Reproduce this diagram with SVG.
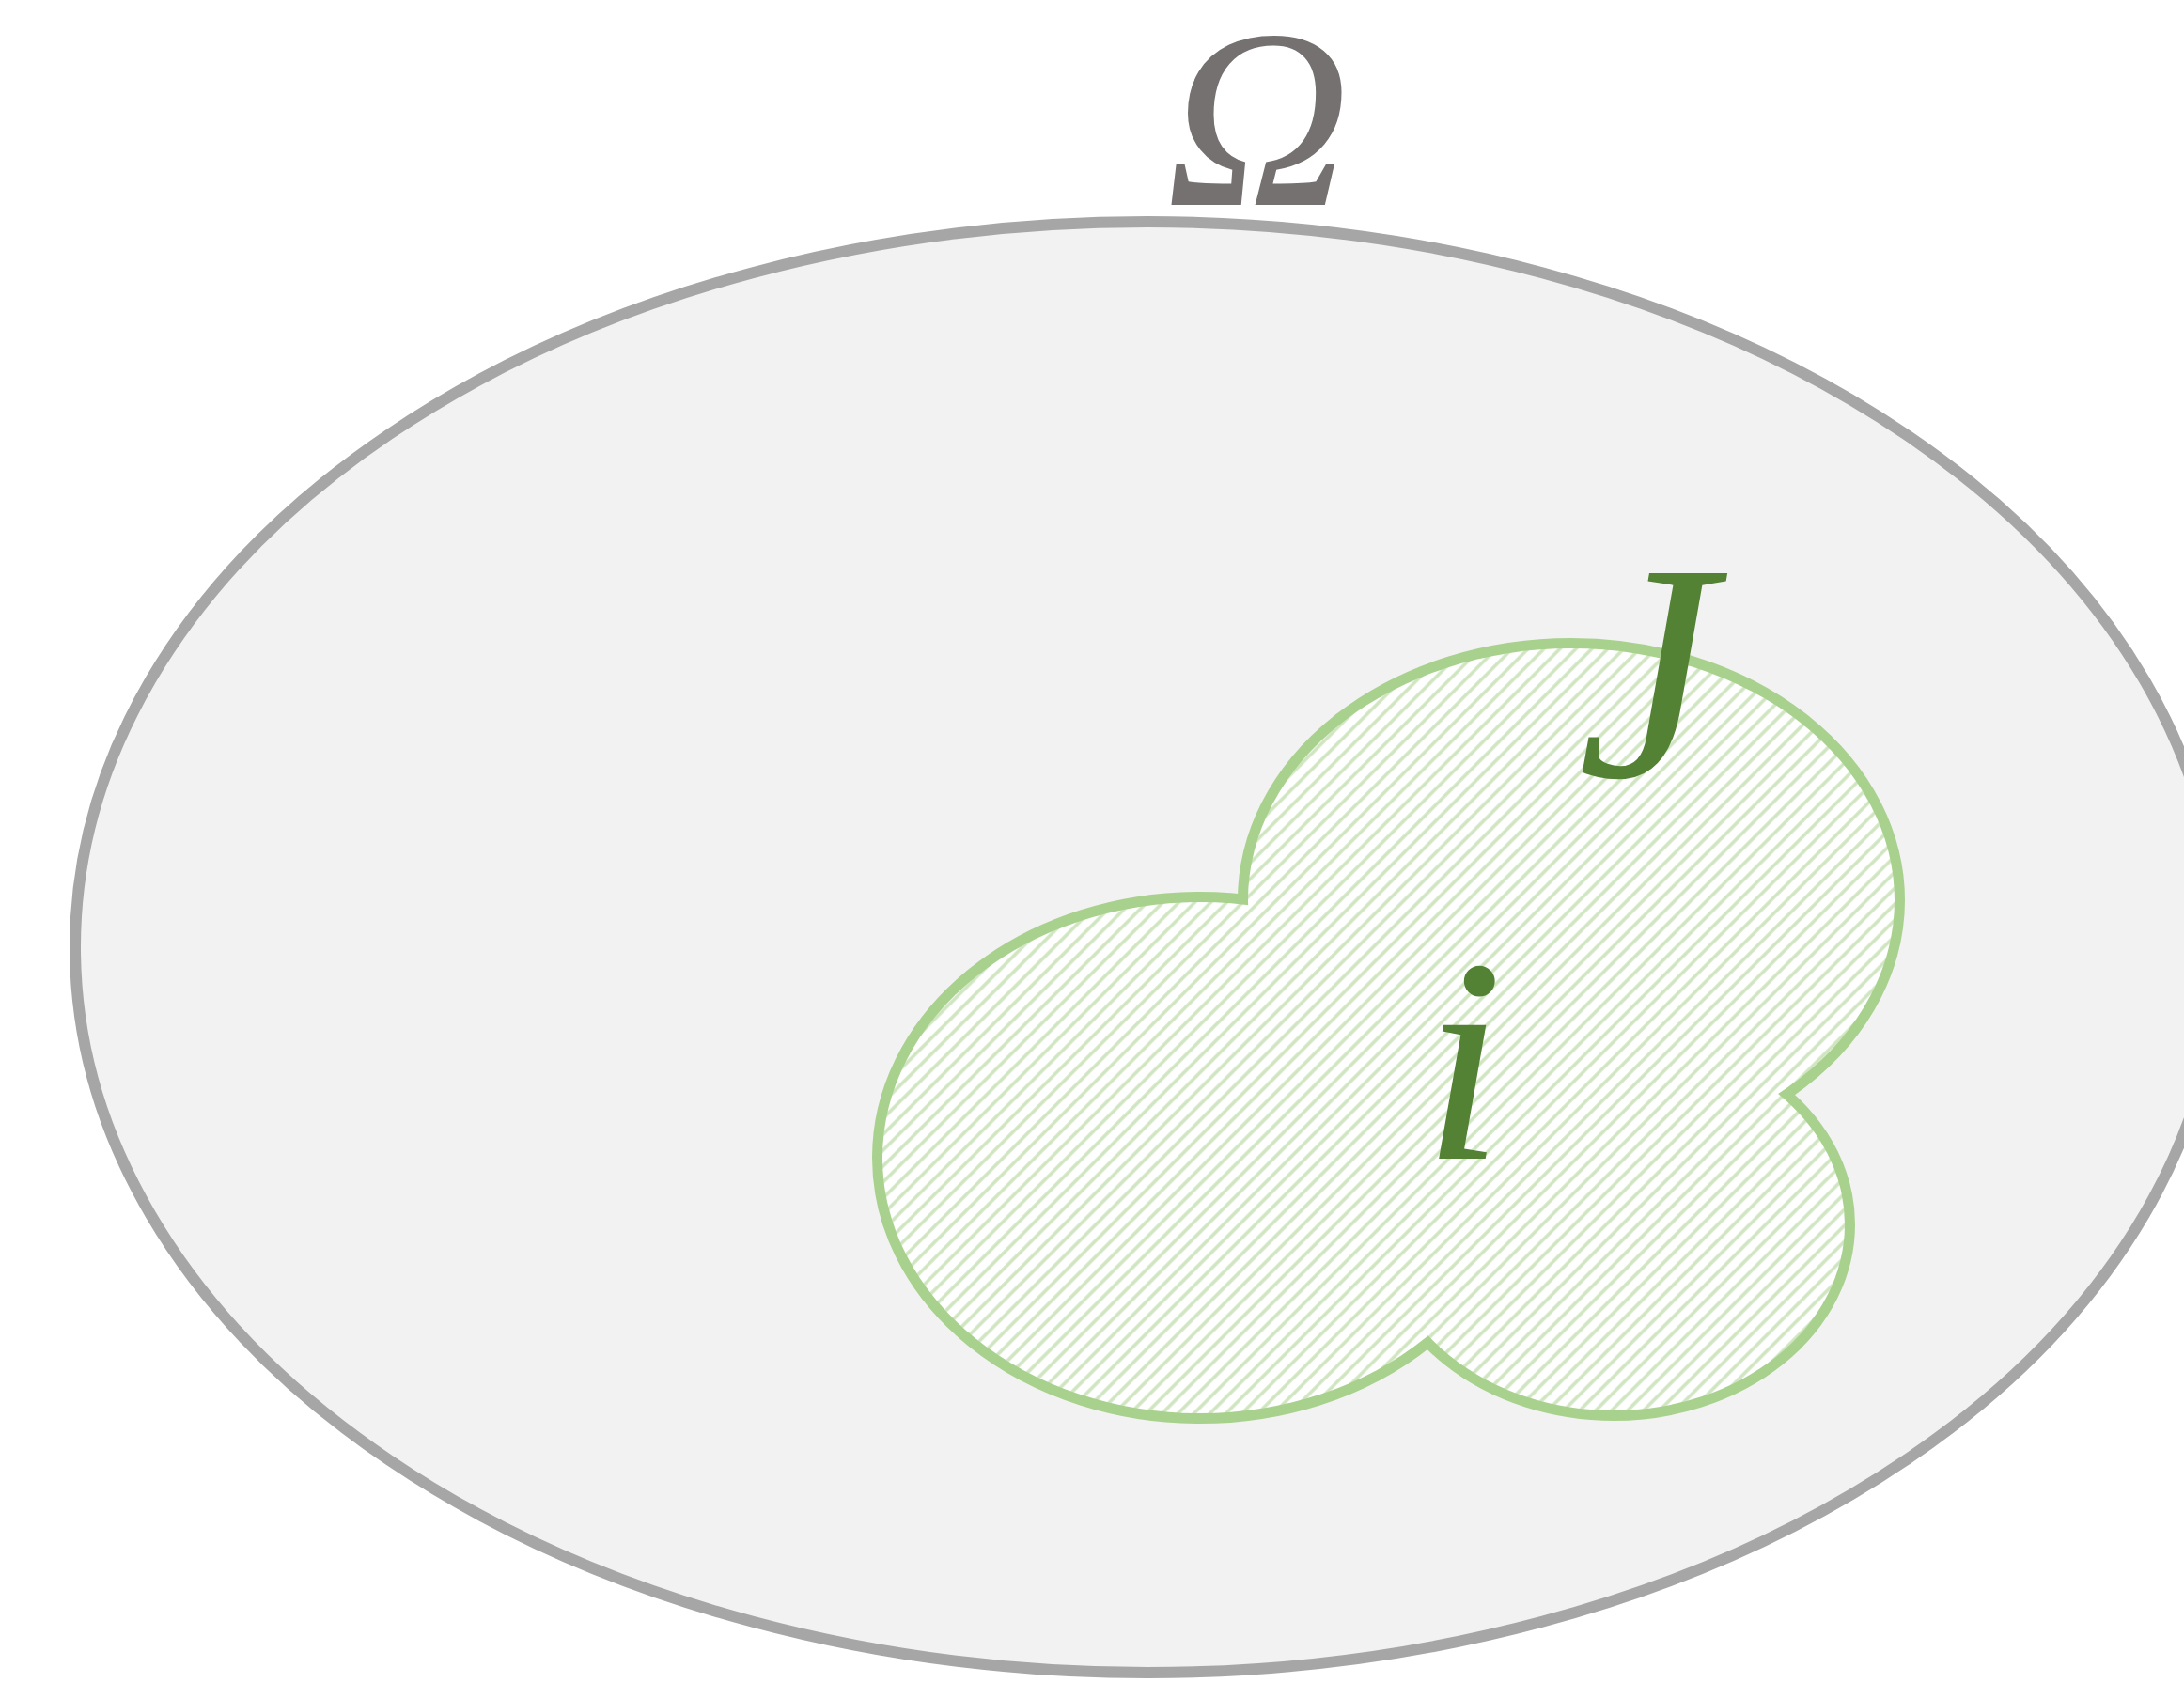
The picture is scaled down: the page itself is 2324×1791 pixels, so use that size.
<svg xmlns="http://www.w3.org/2000/svg" width="2324" height="1791" viewBox="0 0 2324 1791">
<style>
.lbl{font-family:"Liberation Serif","DejaVu Serif",serif;font-style:italic}
.lobe-s{fill:none;stroke:#a9d18e;stroke-width:22}
.lobe-f{fill:url(#hatch);stroke:none}
</style>
<defs>
<pattern id="hatch" patternUnits="userSpaceOnUse" width="12" height="12" patternTransform="rotate(45)">
<rect width="12" height="12" fill="#ffffff"/>
<line x1="6" y1="0" x2="6" y2="12" stroke="#cfe5c0" stroke-width="3.5"/>
</pattern>
</defs>
<rect width="2324" height="1791" fill="#ffffff"/>
<g id="omega">
<ellipse cx="1221" cy="1008" rx="1141" ry="772" fill="#f2f2f2" stroke="#a6a6a6" stroke-width="12"/>
<text class="lbl" x="1339" y="218" font-size="272" fill="#767171" text-anchor="middle">Ω</text>
</g>
<g id="J">
<ellipse class="lobe-s" cx="1672" cy="958" rx="344" ry="268"/>
<ellipse class="lobe-s" cx="1277" cy="1232" rx="338" ry="272"/>
<ellipse class="lobe-s" cx="1717" cy="1303" rx="246" ry="198"/>
<ellipse class="lobe-f" cx="1672" cy="958" rx="344" ry="268"/>
<ellipse class="lobe-f" cx="1277" cy="1232" rx="338" ry="272"/>
<ellipse class="lobe-f" cx="1717" cy="1303" rx="246" ry="198"/>
<text class="lbl" x="1752" y="826" font-size="330" fill="#548235" text-anchor="middle">J</text>
</g>
<g id="i">
<text class="lbl" x="1557" y="1233" font-size="310" fill="#548235" text-anchor="middle">i</text>
</g>
<g id="connectors"></g>
</svg>
